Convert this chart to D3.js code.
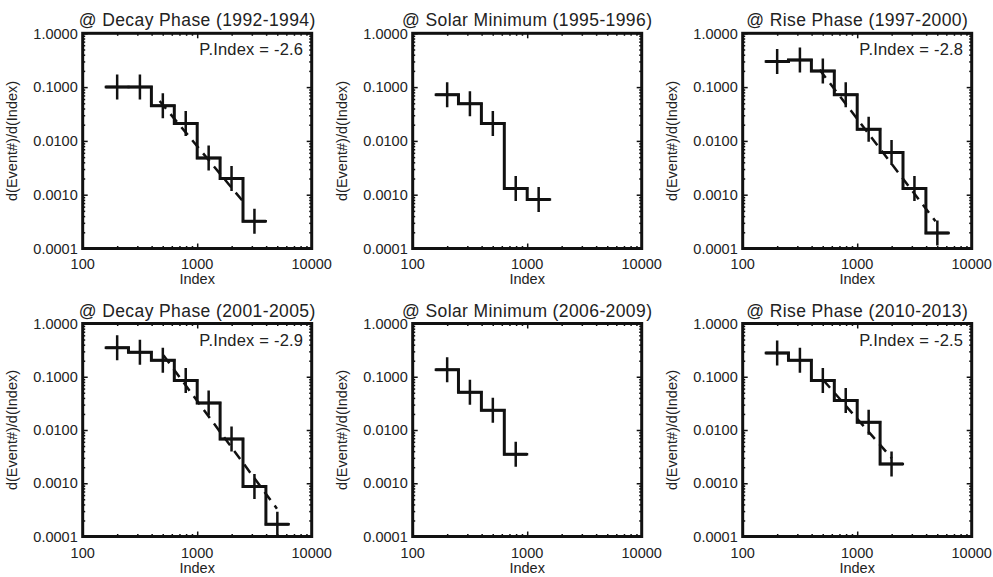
<!DOCTYPE html>
<meta charset="utf-8">
<style>
  body { margin: 0; background: #fff; }
  text { font-family: "Liberation Sans", Arial, Helvetica, sans-serif; font-weight: 400; fill: #222; }
</style>
<body>
<script src="https://cdn.jsdelivr.net/npm/d3@7"></script>
<script>
var width = 993, height = 577;

// bin edges (0.2 dex bins) and bin centres, in Index units
var binEdges = [158, 251, 398, 631, 1000, 1585, 2512, 3981, 6310];
var binCenters = [200, 316, 501, 794, 1259, 1995, 3162, 5012];

var titles = [
  "@ Decay Phase (1992-1994)",
  "@ Solar Minimum (1995-1996)",
  "@ Rise Phase (1997-2000)",
  "@ Decay Phase (2001-2005)",
  "@ Solar Minimum  (2006-2009)",
  "@ Rise Phase  (2010-2013)"
];

// d(Event#)/d(Index) per bin
var decay1 = [0.1, 0.1, 0.045, 0.021, 0.0048, 0.002, 0.00032];
var solmin1 = [0.072, 0.049, 0.021, 0.0013, 0.00081];
var rise1 = [0.3, 0.32, 0.2, 0.072, 0.0165, 0.0061, 0.0013, 0.000195];
var decay2 = [0.35, 0.29, 0.204, 0.085, 0.032, 0.0068, 0.00087, 0.00017];
var solmin2 = [0.136, 0.051, 0.0235, 0.0035];
var rise2 = [0.28, 0.204, 0.085, 0.036, 0.014, 0.0023];

var pIndex = ["P.Index = -2.6", null, "P.Index = -2.8", "P.Index = -2.9", null, "P.Index = -2.5"];

// power-law fit lines: [[x1, y1], [x2, y2]]
var fits = [
  [[470, 0.055], [2512, 0.00075]],
  null,
  [[470, 0.21], [4830, 0.00032]],
  [[507, 0.253], [4970, 0.000333]],
  null,
  [[507, 0.086], [2005, 0.00295]]
];

var series = [decay1, solmin1, rise1, decay2, solmin2, rise2];

var xTicks = [100, 1000, 10000];
var xTickLabels = ["100", "1000", "10000"];
var yTicks = [1, 0.1, 0.01, 0.001, 0.0001];
var yTickLabels = ["1.0000", "0.1000", "0.0100", "0.0010", "0.0001"];

var colLeft = [82.7, 412.7, 742.7];
var rowTop = [33.3, 323.5];
var rowH = [215.2, 213];
var boxW = 229;

var svg = d3.select("body").append("svg")
  .attr("width", width)
  .attr("height", height);

// minor ticks 2..9 per decade
function minors(lo, hi) {
  var out = [];
  for (var e = lo; e < hi; e++) {
    for (var k = 2; k < 10; k++) out.push(k * Math.pow(10, e));
  }
  return out;
}
var xMinor = minors(2, 4);
var yMinor = minors(-4, 0);

series.forEach(function(vals, i) {
  var col = i % 3, row = Math.floor(i / 3);
  var w = boxW, h = rowH[row];
  var g = svg.append("g")
    .attr("transform", "translate(" + colLeft[col] + "," + rowTop[row] + ")");

  var x = d3.scaleLog().domain([100, 10000]).range([0, w]);
  var y = d3.scaleLog().domain([0.0001, 1]).range([h, 0]);

  // ticks, inward on all four sides
  function tickAxis(axis, vals, size, tr) {
    var a = g.append("g").attr("transform", tr || null)
      .call(axis.tickValues(vals).tickSize(size).tickFormat(""));
    a.select(".domain").remove();
    a.selectAll("line").attr("stroke", "#111").attr("stroke-width", 1.5);
  }
  tickAxis(d3.axisBottom(x), xTicks, -5, "translate(0," + h + ")");
  tickAxis(d3.axisBottom(x), xMinor, -2.5, "translate(0," + h + ")");
  tickAxis(d3.axisTop(x), xTicks, -5);
  tickAxis(d3.axisTop(x), xMinor, -2.5);
  tickAxis(d3.axisLeft(y), yTicks, -5);
  tickAxis(d3.axisLeft(y), yMinor, -2.5);
  tickAxis(d3.axisRight(y), yTicks, -5, "translate(" + w + ",0)");
  tickAxis(d3.axisRight(y), yMinor, -2.5, "translate(" + w + ",0)");

  g.append("rect")
    .attr("width", w).attr("height", h)
    .attr("fill", "none").attr("stroke", "#111").attr("stroke-width", 3);

  // tick labels
  g.selectAll(".xl").data(xTicks).enter().append("text")
    .attr("x", function(d) { return x(d); })
    .attr("y", h + 21)
    .attr("text-anchor", "middle")
    .style("font-size", "14.5px")
    .text(function(d, j) { return xTickLabels[j]; });

  g.selectAll(".yl").data(yTicks).enter().append("text")
    .attr("x", -5)
    .attr("y", function(d) { return y(d); })
    .attr("dy", "0.36em")
    .attr("text-anchor", "end")
    .style("font-size", "14.5px")
    .text(function(d, j) { return yTickLabels[j]; });

  g.append("text")
    .attr("x", w / 2).attr("y", h + 36)
    .attr("text-anchor", "middle")
    .style("font-size", "14.5px")
    .text("Index");

  g.append("text")
    .attr("transform", "translate(-66," + (h / 2) + ") rotate(-90)")
    .attr("text-anchor", "middle")
    .style("font-size", "14.5px")
    .text("d(Event#)/d(Index)");

  g.append("text")
    .attr("x", w / 2).attr("y", -7)
    .attr("text-anchor", "middle")
    .style("font-size", "17.5px")
    .style("letter-spacing", "0.4px")
    .text(titles[i]);

  if (pIndex[i]) {
    g.append("text")
      .attr("x", w - 8.5).attr("y", 22)
      .attr("text-anchor", "end")
      .style("font-size", "16.5px")
      .style("letter-spacing", "0.2px")
      .text(pIndex[i]);
  }

  // dashed power-law fit
  if (fits[i]) {
    g.append("path")
      .attr("d", d3.line().x(function(d) { return x(d[0]); }).y(function(d) { return y(d[1]); })(fits[i]))
      .attr("fill", "none")
      .attr("stroke", "#111")
      .attr("stroke-width", 2.5)
      .attr("stroke-dasharray", "10,7");
  }

  // histogram steps
  var pts = vals.map(function(v, j) { return [binEdges[j], v]; });
  pts.push([binEdges[vals.length], vals[vals.length - 1]]);
  g.append("path")
    .attr("d", d3.line().curve(d3.curveStepAfter)
      .x(function(d) { return x(d[0]); })
      .y(function(d) { return y(d[1]); })(pts))
    .attr("fill", "none")
    .attr("stroke", "#111")
    .attr("stroke-width", 3);

  // plus symbols at bin centres
  var arm = 12.5;
  g.selectAll(".plus").data(vals).enter().append("path")
    .attr("d", function(v, j) {
      var cx = x(binCenters[j]), cy = y(v);
      return "M" + (cx - arm) + "," + cy + "H" + (cx + arm) +
             "M" + cx + "," + (cy - arm) + "V" + (cy + arm);
    })
    .attr("fill", "none")
    .attr("stroke", "#111")
    .attr("stroke-width", 2.5);
});
</script>
</body>
